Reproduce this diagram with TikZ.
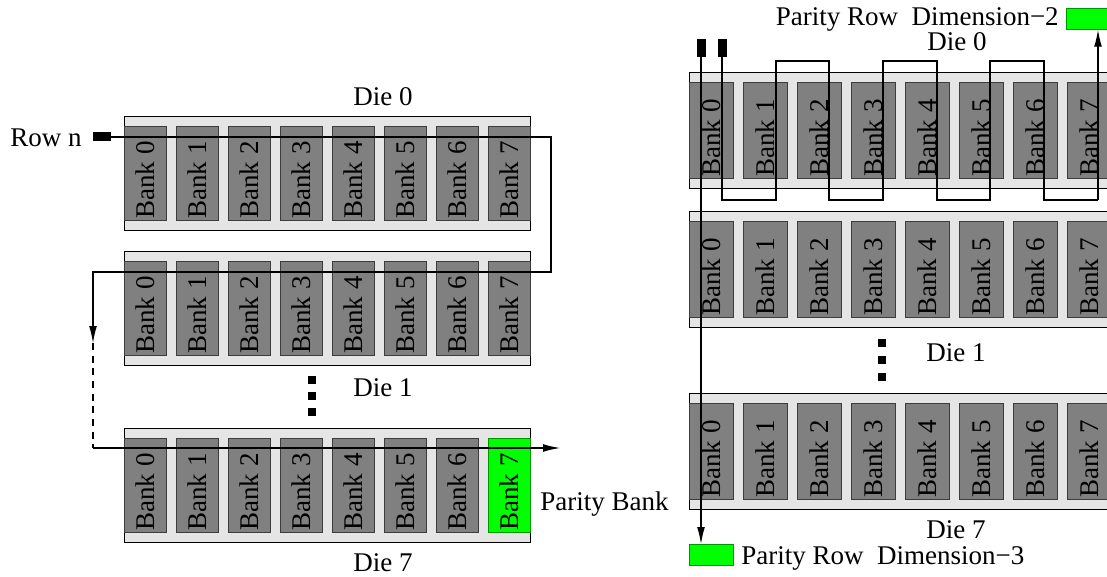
\documentclass[tikz,border=0pt]{standalone}
\usepackage{fontspec}
\setmainfont{Liberation Serif}
\usetikzlibrary{positioning, calc, arrows.meta}
\definecolor{diefill}{RGB}{229,229,229}
\definecolor{bankfill}{RGB}{128,128,128}
\definecolor{bankedge}{RGB}{60,60,60}
\definecolor{parityfill}{RGB}{0,255,0}
\definecolor{parityedge}{RGB}{0,150,0}

% one die: name, x, y, box style, bank style, pitch, parity bank (8 = none)
\newcommand{\onedie}[7]{%
  \node[#4, anchor=north west] (#1) at (#2,#3) {};
  \foreach \b in {0,...,7}{
    \ifnum\b=#7\relax \def\bankcol{parityfill}\def\edgecol{parityedge}%
    \else \def\bankcol{bankfill}\def\edgecol{bankedge}\fi
    \node[#5, fill=\bankcol, draw=\edgecol, anchor=north west] (#1b\b) at ($(#1.north west)+(\b*#6,10)$) {};
    \node[banktext] (#1t\b) at ($(#1b\b.south)+(0,-2)$) {Bank \b};
  }
}

\begin{document}
\begin{tikzpicture}[
    x=0.025cm, y=-0.025cm,
    font=\fontsize{19.2}{21}\selectfont,
    ldie/.style={draw, line width=0.9pt, fill=diefill, inner sep=0pt, minimum width=10.15cm, minimum height=2.85cm},
    lbank/.style={line width=0.7pt, inner sep=0pt, minimum width=1.05cm, minimum height=2.35cm},
    rdie/.style={draw, line width=0.9pt, fill=diefill, inner sep=0pt, minimum width=10.55cm, minimum height=2.9cm},
    rbank/.style={line width=0.7pt, inner sep=0pt, minimum width=1.1cm, minimum height=2.4cm},
    banktext/.style={rotate=90, anchor=west, inner sep=0pt},
    lbl/.style={inner sep=0pt},
    marker/.style={fill=black, inner sep=0pt},
    paritybox/.style={fill=parityfill, draw=parityedge, line width=0.7pt, inner sep=0pt, minimum width=1.1cm, minimum height=0.52cm},
    dotmark/.style={fill=black, inner sep=0pt, minimum size=0.2cm},
    conn/.style={line width=0.8pt},
    arrow/.style={conn, -{Latex[length=12pt, width=5.5pt]}}
  ]
  \clip (0,0) rectangle (1107,577);

  % left: one row over all dies, parity bank in die 7
  \onedie{ld0}{124}{116}{ldie}{lbank}{52}{8}
  \onedie{ld1}{124}{251}{ldie}{lbank}{52}{8}
  \onedie{ld7}{124}{428}{ldie}{lbank}{52}{7}

  \node[lbl] (llab0) at (383,97) {Die 0};
  \node[lbl] (llab1) at (383,388) {Die 1};
  \node[lbl] (llab7) at (383,563) {Die 7};
  \node[lbl, anchor=base east] (lrowlab) at (82,147) {Row n};
  \node[marker, minimum width=0.45cm, minimum height=0.225cm] (lrow) at (102,137) {};
  \node[lbl, anchor=base west] (lparlab) at (540,510) {Parity Bank};
  \node[dotmark] (ldot1) at (312,380) {};
  \node[dotmark] (ldot2) at (312,396) {};
  \node[dotmark] (ldot3) at (312,412) {};

  \coordinate (lturn1) at (551,137);
  \coordinate (lturn2) at (551,272);
  \coordinate (lturn3) at (93,272);
  \coordinate (ldown) at (93,343);
  \coordinate (lturn4) at (93,448);
  \coordinate (lend) at (560,448);
  \draw[arrow] (lrow.east) -- (lturn1) -- (lturn2) -- (lturn3) -- (ldown);
  \draw[conn, dash pattern=on 5pt off 4pt] (ldown) -- (lturn4);
  \draw[arrow] (lturn4) -- (lend);

  % right: two more parity dimensions
  \onedie{rd0}{689}{72}{rdie}{rbank}{54}{8}
  \onedie{rd1}{689}{211}{rdie}{rbank}{54}{8}
  \onedie{rd7}{689}{393}{rdie}{rbank}{54}{8}

  \node[lbl] (rlab0) at (957,42) {Die 0};
  \node[lbl] (rlab1) at (956,353) {Die 1};
  \node[lbl] (rlab7) at (956,530) {Die 7};
  \node[dotmark] (rdot1) at (882,343) {};
  \node[dotmark] (rdot2) at (882,360) {};
  \node[dotmark] (rdot3) at (882,377) {};
  \node[marker, minimum width=0.225cm, minimum height=0.45cm] (rrowa) at (701,48) {};
  \node[marker, minimum width=0.225cm, minimum height=0.45cm] (rrowb) at (722,48) {};
  \node[paritybox, anchor=north west] (rpar2) at (1066,8) {};
  \node[lbl, anchor=base east] (rpar2lab) at (1059,26) {Parity Row~ Dimension−2};
  \node[paritybox, anchor=north west] (rpar3) at (689,544) {};
  \node[lbl, anchor=base west] (rpar3lab) at (741,564) {Parity Row~ Dimension−3};

  \draw[arrow] (rrowa.south) -- (rrowa.south |- rpar3.north);
  \coordinate (rup) at (1098,200);
  \draw[conn] (rrowb.south) -- (722,200) -- (776,200) -- (776,61) -- (829,61) -- (829,200)
    -- (883,200) -- (883,61) -- (937,61) -- (937,200) -- (990,200) -- (990,61)
    -- (1044,61) -- (1044,200) -- (rup);
  \draw[arrow] (rup) -- (rup |- rpar2.south);
\end{tikzpicture}
\end{document}
